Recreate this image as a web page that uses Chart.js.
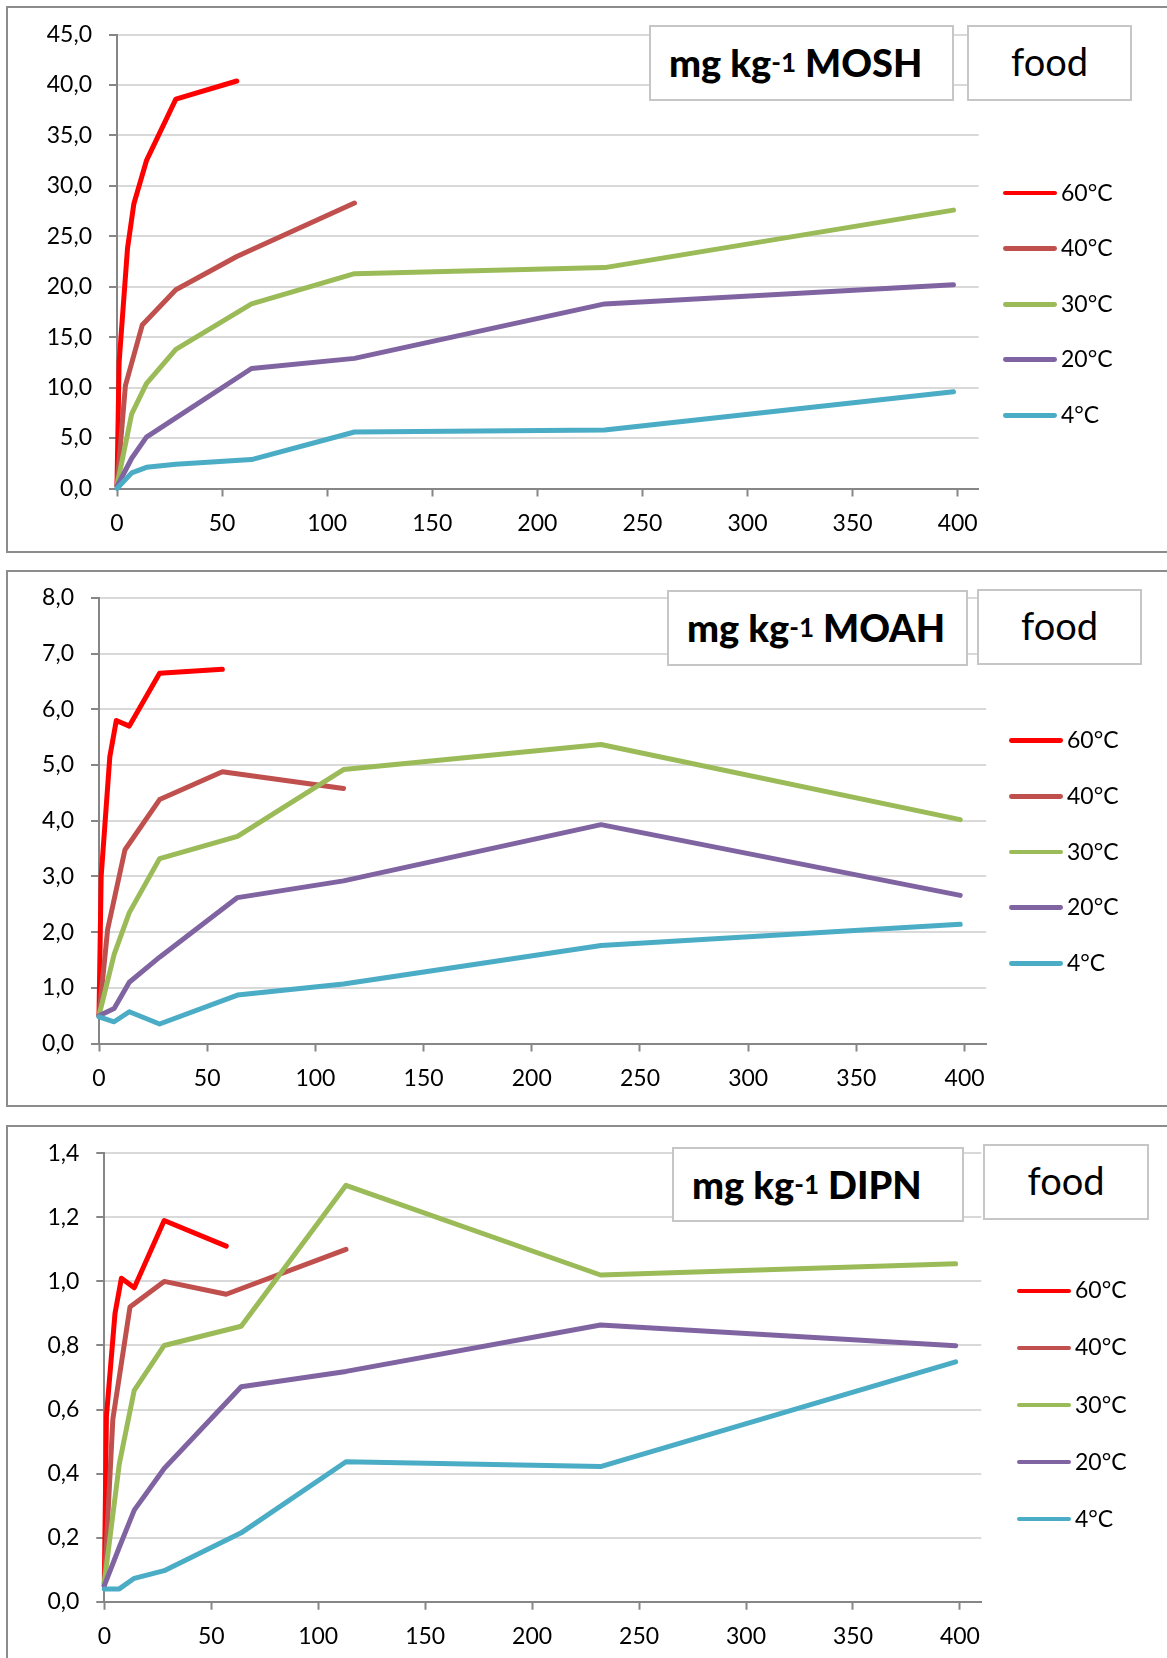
<!DOCTYPE html>
<html>
<head>
<meta charset="utf-8">
<script src="https://cdn.jsdelivr.net/npm/chart.js@4.4.1/dist/chart.umd.min.js"></script>
<style>
  html, body { margin: 0; padding: 0; background: #fff; }
  body { width: 1167px; height: 1658px; position: relative; overflow: hidden; font-family: Lato, "Open Sans", sans-serif; }
  .frame { position: absolute; left: 6px; width: 1220px; border: 2px solid #8c8c8c; box-sizing: border-box; z-index: 0; }
  canvas { position: absolute; left: 0; z-index: 1; }
  .tbox { position: absolute; background: #fff; border: 2px solid #c6c6c6; box-sizing: border-box; display: flex; align-items: center; color: #000; z-index: 2; white-space: nowrap; }
  .title { font-weight: 900; font-size: 38px; padding-left: 18px; padding-bottom: 2px; }
  .title .sup { font-size: 26px; vertical-align: 12px; line-height: 0; font-weight: 700; }
  .food { justify-content: center; font-size: 38px; padding-bottom: 4px; }
  .lg-line { position: absolute; width: 54px; height: 4.8px; border-radius: 2.4px; z-index: 2; }
  .lg-text { position: absolute; font-size: 23px; line-height: 27.6px; color: #000; z-index: 2; white-space: nowrap; }
</style>
</head>
<body>
<div class="frame" style="top:6px;height:547px"></div>
<div class="frame" style="top:570px;height:537px"></div>
<div class="frame" style="top:1125px;height:600px"></div>

<canvas id="c1" width="1167" height="560" style="top:0px"></canvas>
<canvas id="c2" width="1167" height="560" style="top:560px"></canvas>
<canvas id="c3" width="1167" height="543" style="top:1115px"></canvas>

<div class="tbox title" style="left:649px;top:25px;width:305px;height:76px">mg kg<span class="sup">-1</span>&nbsp;MOSH</div>
<div class="tbox food" style="left:967px;top:25px;width:165px;height:76px">food</div>
<div class="tbox title" style="left:667px;top:590px;width:301px;height:76px">mg kg<span class="sup">-1</span>&nbsp;MOAH</div>
<div class="tbox food" style="left:977px;top:589px;width:165px;height:76px">food</div>
<div class="tbox title" style="left:672px;top:1147px;width:292px;height:75px">mg kg<span class="sup">-1</span>&nbsp;DIPN</div>
<div class="tbox food" style="left:983px;top:1144px;width:166px;height:76px">food</div>

<script>
// Storage temperatures (legend order)
const seriesNames = ['60°C', '40°C', '30°C', '20°C', '4°C'];

// Sampling times (days) for each temperature
const days60 = [0, 1, 5, 8, 14, 28, 57];
const days40 = [0, 4, 12, 28, 57, 113];
const daysLow = [0, 7, 14, 28, 64, 113, 232, 398]; // 30°C, 20°C and 4°C

// MOSH in food, mg/kg
const mosh60 = [0.3, 12.5, 23.8, 28.2, 32.5, 38.6, 40.4];
const mosh40 = [0.3, 10.2, 16.2, 19.7, 23.0, 28.3];
const mosh30 = [0.3, 7.4, 10.4, 13.8, 18.3, 21.3, 21.9, 27.6];
const mosh20 = [0.2, 3.0, 5.1, 7.0, 11.9, 12.9, 18.3, 20.2];
const mosh4  = [0.0, 1.55, 2.1, 2.4, 2.87, 5.6, 5.8, 9.6];

// MOAH in food, mg/kg
const moah60 = [0.5, 3.0, 5.15, 5.8, 5.7, 6.65, 6.72];
const moah40 = [0.5, 2.05, 3.48, 4.38, 4.88, 4.58];
const moah30 = [0.5, 1.6, 2.35, 3.32, 3.72, 4.92, 5.37, 4.02];
const moah20 = [0.5, 0.63, 1.1, 1.55, 2.62, 2.92, 3.93, 2.66];
const moah4  = [0.48, 0.39, 0.57, 0.35, 0.87, 1.07, 1.76, 2.14];

// DIPN in food, mg/kg
const dipn60 = [0.05, 0.58, 0.90, 1.01, 0.98, 1.19, 1.11];
const dipn40 = [0.05, 0.57, 0.92, 1.00, 0.96, 1.10];
const dipn30 = [0.06, 0.43, 0.66, 0.80, 0.86, 1.30, 1.02, 1.055];
const dipn20 = [0.05, 0.17, 0.286, 0.416, 0.671, 0.719, 0.864, 0.799];
const dipn4  = [0.04, 0.04, 0.073, 0.097, 0.215, 0.437, 0.422, 0.749];

// Axis ticks
const xTickValues = [0, 50, 100, 150, 200, 250, 300, 350, 400];
const moshTicks = [0, 5, 10, 15, 20, 25, 30, 35, 40, 45];
const moahTicks = [0, 1, 2, 3, 4, 5, 6, 7, 8];
const dipnTicks = [0, 0.2, 0.4, 0.6, 0.8, 1.0, 1.2, 1.4];

const seriesColors = ['#FF0000', '#C0504D', '#9BBB59', '#8064A2', '#4BACC6'];
const seriesDays = [days60, days40, daysLow, daysLow, daysLow];

const FONT = 'Lato, "Open Sans", sans-serif';
const AXIS_GREY = '#868686';
const GRID_GREY = '#d9d9d9';
const X_MAX = 410;

function pairs(days, vals) {
  return vals.map((v, i) => ({ x: days[i], y: v }));
}

function comma(v) {
  return (Math.round(v * 10) / 10).toFixed(1).replace('.', ',');
}

function makePanel(p) {
  const canvas = document.getElementById(p.id);
  const H = canvas.height, W = canvas.width;
  const datasets = p.series.map((vals, i) => ({
    label: seriesNames[i],
    data: pairs(seriesDays[i], vals),
    borderColor: seriesColors[i],
    backgroundColor: seriesColors[i],
    borderWidth: 5,
    pointRadius: 0,
    pointHoverRadius: 0,
    tension: 0,
    fill: false,
    borderCapStyle: 'round',
    borderJoinStyle: 'round',
    clip: false,
    order: 10 - i
  }));

  new Chart(canvas, {
    type: 'line',
    data: { datasets },
    options: {
      responsive: false,
      animation: false,
      events: [],
      layout: { padding: { left: 0, top: p.area.top, right: W - p.area.right, bottom: 0 } },
      plugins: { legend: { display: false }, tooltip: { enabled: false } },
      scales: {
        x: {
          type: 'linear',
          min: 0,
          max: X_MAX,
          afterFit: (s) => { s.height = H - p.area.bottom; },
          afterBuildTicks: (s) => { s.ticks = xTickValues.map(v => ({ value: v })); },
          grid: { drawOnChartArea: false, drawTicks: true, tickLength: 8, tickColor: AXIS_GREY, tickWidth: 2 },
          border: { display: true, color: AXIS_GREY, width: 2 },
          ticks: { color: '#000', font: { family: FONT, size: 23 }, padding: 13, maxRotation: 0, callback: (v) => String(v) }
        },
        y: {
          type: 'linear',
          min: 0,
          max: p.ticks[p.ticks.length - 1],
          afterFit: (s) => { s.width = p.area.left; },
          afterBuildTicks: (s) => { s.ticks = p.ticks.map(v => ({ value: v })); },
          grid: { color: GRID_GREY, lineWidth: 2, drawTicks: true, tickLength: 8, tickColor: AXIS_GREY, tickWidth: 2 },
          border: { display: true, color: AXIS_GREY, width: 2 },
          ticks: { color: '#000', font: { family: FONT, size: 23 }, padding: 17, callback: (v) => comma(v) }
        }
      }
    }
  });

  // Legend built from the dataset labels and colours
  seriesNames.forEach((name, i) => {
    const cy = p.legend.top + i * p.legend.step;
    const line = document.createElement('div');
    line.className = 'lg-line';
    line.style.left = p.legend.lineLeft + 'px';
    line.style.top = (cy - 2.4) + 'px';
    line.style.background = seriesColors[i];
    document.body.appendChild(line);
    const txt = document.createElement('div');
    txt.className = 'lg-text';
    txt.style.left = (p.legend.lineLeft + 58) + 'px';
    txt.style.top = (cy - 14.5) + 'px';
    txt.textContent = name;
    document.body.appendChild(txt);
  });
}

makePanel({
  id: 'c1',
  series: [mosh60, mosh40, mosh30, mosh20, mosh4],
  ticks: moshTicks,
  area: { left: 117, top: 34.6, right: 978.7, bottom: 488.5 },
  legend: { lineLeft: 1003, top: 193, step: 55.6 }
});
makePanel({
  id: 'c2',
  series: [moah60, moah40, moah30, moah20, moah4],
  ticks: moahTicks,
  area: { left: 99, top: 38, right: 986.2, bottom: 483.5 },
  legend: { lineLeft: 1009, top: 740.4, step: 55.8 }
});
makePanel({
  id: 'c3',
  series: [dipn60, dipn40, dipn30, dipn20, dipn4],
  ticks: dipnTicks,
  area: { left: 104.3, top: 38.3, right: 981.3, bottom: 486.7 },
  legend: { lineLeft: 1017, top: 1290.9, step: 57.05 }
});
</script>
</body>
</html>
